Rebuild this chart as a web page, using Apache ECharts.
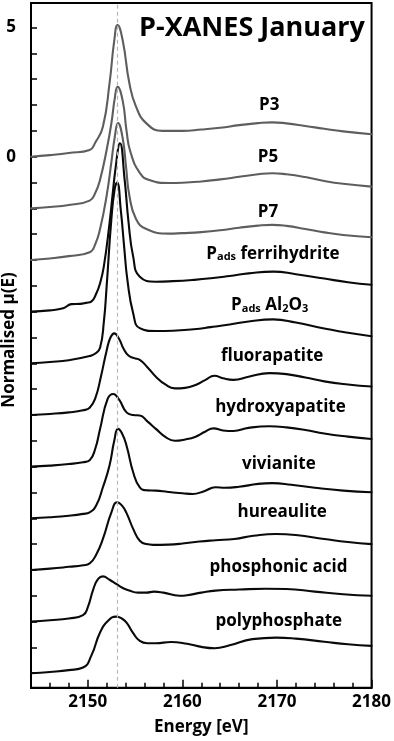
<!DOCTYPE html>
<html><head><meta charset="utf-8">
<script src="https://cdn.jsdelivr.net/npm/echarts@6/dist/echarts.min.js"></script>
<style>html,body{margin:0;padding:0;background:#fff}#c{width:394px;height:741px}</style>
</head><body><div id="c"></div>
<script>
// ---------------- DATA ----------------
const curveNames = ['P3','P5','P7','Pads ferrihydrite','Pads Al2O3','fluorapatite','hydroxyapatite','vivianite','hureaulite','phosphonic acid','polyphosphate'];
const curveOffsets = [0,-2,-4,-6,-8,-10,-12,-14,-16,-18,-20];

const P3 = [[2144,0.00],[2146,0.06],[2148,0.14],[2150.2,0.26],[2150.8,0.55],[2151.6,1.16],[2152.3,2.84],[2152.8,4.49],[2153.15,5.10],[2153.7,4.49],[2154.4,2.84],[2155.1,1.94],[2156.2,1.29],[2157.9,1.00],[2160,1.00],[2162,1.05],[2164,1.12],[2166,1.22],[2168,1.30],[2169.5,1.33],[2171,1.29],[2173,1.19],[2175,1.08],[2177,0.98],[2180,0.87]];
const P5 = [[2144,0.00],[2146,0.05],[2148,0.13],[2150.2,0.30],[2150.8,0.60],[2151.3,1.11],[2152.0,2.27],[2152.5,3.3],[2152.85,4.25],[2153.15,4.71],[2153.7,4.15],[2154.1,3.0],[2154.5,2.2],[2155.5,1.37],[2156.5,1.1],[2158.6,0.98],[2160,0.99],[2162,1.04],[2164,1.12],[2166,1.22],[2168,1.32],[2169.5,1.36],[2171,1.32],[2173,1.21],[2175,1.06],[2177,0.95],[2180,0.84]];
const P7 = [[2144,0.00],[2146,0.06],[2148,0.15],[2150.2,0.30],[2150.8,0.62],[2151.3,1.2],[2152.0,2.5],[2152.5,3.8],[2152.85,4.75],[2153.2,5.30],[2153.7,4.7],[2154.05,3.6],[2154.4,2.49],[2155.1,1.59],[2156.2,1.2],[2158.6,1.02],[2160,1.04],[2162,1.08],[2164,1.15],[2166,1.25],[2168,1.33],[2169.5,1.36],[2171,1.32],[2173,1.2],[2175,1.07],[2177,0.97],[2180,0.88]];
const ferrihydrite = [[2144,0.00],[2146,0.05],[2147.4,0.13],[2148.3,0.29],[2149.2,0.30],[2149.8,0.34],[2150.4,0.40],[2150.9,0.7],[2151.3,1.1],[2151.7,1.75],[2152.3,3.42],[2153.0,5.74],[2153.4,6.52],[2153.9,5.1],[2154.3,3.5],[2154.8,2.13],[2155.5,1.35],[2157.2,1.16],[2159,1.18],[2161.2,1.23],[2163,1.29],[2165,1.38],[2167,1.48],[2169.6,1.55],[2172,1.45],[2175,1.28],[2177.5,1.14],[2180,1.04]];
const al2o3 = [[2144,0.00],[2146,0.05],[2148,0.12],[2150.2,0.28],[2150.8,0.38],[2151.3,0.6],[2151.7,1.6],[2152.0,3.0],[2152.5,5.6],[2152.85,6.75],[2153.1,7.0],[2153.5,5.9],[2153.85,4.5],[2154.2,3.2],[2154.8,1.94],[2155.5,1.36],[2157.2,1.25],[2159,1.26],[2161.2,1.32],[2163,1.40],[2165,1.50],[2167,1.62],[2169.6,1.70],[2172,1.58],[2175,1.35],[2177.5,1.18],[2180,1.05]];
const fluorapatite = [[2144,0.00],[2146,0.04],[2148,0.10],[2149.5,0.18],[2150.2,0.28],[2150.8,0.65],[2151.4,1.5],[2152.0,2.5],[2152.4,3.0],[2152.8,3.16],[2153.3,2.95],[2153.8,2.55],[2154.3,2.3],[2154.9,2.2],[2155.5,2.13],[2156.3,1.85],[2157.2,1.48],[2158.2,1.18],[2159.2,1.03],[2160.3,1.05],[2161.4,1.16],[2162.4,1.35],[2163.4,1.52],[2164.3,1.42],[2165.4,1.36],[2167,1.48],[2169.2,1.62],[2171,1.58],[2173,1.45],[2175,1.3],[2177.5,1.18],[2180,1.1]];
const hydroxyapatite = [[2144,0.00],[2146,0.04],[2148,0.10],[2149.5,0.17],[2150.2,0.25],[2150.8,0.7],[2151.3,1.46],[2152.1,2.62],[2152.7,2.81],[2153.3,2.6],[2154.1,2.1],[2154.8,2.0],[2155.5,1.98],[2156.3,1.75],[2157.2,1.46],[2158.2,1.15],[2159.2,1.0],[2160.3,1.05],[2161.4,1.16],[2162.4,1.35],[2163.3,1.48],[2164.3,1.40],[2165.4,1.38],[2167,1.5],[2169.2,1.56],[2171,1.52],[2173,1.42],[2175,1.28],[2177.5,1.16],[2180,1.07]];
const vivianite = [[2144,0.00],[2146,0.04],[2148,0.10],[2149.5,0.17],[2150.2,0.23],[2150.9,0.5],[2151.6,1.2],[2152.3,2.04],[2152.8,3.0],[2153.2,3.46],[2153.6,3.3],[2154.1,2.81],[2154.8,1.78],[2155.5,1.2],[2156.3,1.08],[2157.2,1.07],[2158.5,1.02],[2160,0.97],[2161.1,0.94],[2162.3,1.05],[2163.5,1.2],[2164.5,1.18],[2166,1.22],[2168,1.33],[2169.5,1.36],[2171.5,1.3],[2174,1.18],[2177,1.07],[2180,1.01]];
const hureaulite = [[2144,0.00],[2146,0.05],[2148,0.12],[2149.5,0.18],[2150.2,0.25],[2150.9,0.6],[2151.6,1.2],[2152.5,2.23],[2153.1,2.62],[2153.6,2.5],[2154.1,2.2],[2154.8,1.59],[2155.5,1.13],[2156.2,1.0],[2156.9,0.97],[2158.5,0.98],[2160,1.02],[2161.8,1.1],[2163.5,1.15],[2165.5,1.2],[2167.5,1.32],[2169.9,1.39],[2172,1.35],[2175,1.2],[2177.5,1.08],[2180,1.0]];
const phosphonicAcid = [[2144,0.00],[2146,0.05],[2148,0.12],[2149.5,0.25],[2150.0,0.55],[2150.6,1.27],[2151.1,1.65],[2151.6,1.75],[2152.3,1.62],[2153.0,1.46],[2153.7,1.3],[2154.4,1.2],[2155.3,1.12],[2156.2,1.12],[2157,1.16],[2158,1.12],[2159.7,1.0],[2160.5,1.02],[2162,1.12],[2163.5,1.2],[2166,1.24],[2168.8,1.27],[2171,1.26],[2174,1.16],[2177,1.06],[2180,1.0]];
const polyphosphate = [[2144,0.00],[2146,0.05],[2148,0.12],[2149.5,0.22],[2150.4,0.7],[2151.3,1.58],[2152.2,2.05],[2153.0,2.19],[2153.6,2.12],[2154.1,1.96],[2154.8,1.55],[2155.5,1.25],[2156.3,1.16],[2157.2,1.16],[2158.8,1.21],[2160.5,1.14],[2162,1.02],[2163.4,0.97],[2165,1.08],[2167.4,1.32],[2169.9,1.38],[2172,1.34],[2175,1.22],[2177.5,1.12],[2180,1.06]];

const curveData = [P3,P5,P7,ferrihydrite,al2o3,fluorapatite,hydroxyapatite,vivianite,hureaulite,phosphonicAcid,polyphosphate];

const xTickLabels = [2150,2160,2170,2180];
const xMinorTicks = [2146,2148,2152,2154,2156,2158,2162,2164,2166,2168,2172,2174,2176,2178];
const yTickValues = [-20,-19,-18,-17,-16,-15,-14,-13,-12,-11,-10,-9,-8,-7,-6,-5,-4,-3,-2,-1,0,1,2,3,4,5];
const yTickLabels = [0,5];
const whiteLineEnergy = 2153.1;

const titleText = 'P-XANES January';
const xAxisName = 'Energy [eV]';
const yAxisName = 'Normalised \u03bc(E)';
const labelTexts = ['{m|P3}','{m|P5}','{m|P7}','{m|P}{s|ads}{m| ferrihydrite}','{m|P}{s|ads}{m| Al}{s|2}{m|O}{s|3}','{m|fluorapatite}','{m|hydroxyapatite}','{m|vivianite}','{m|hureaulite}','{m|phosphonic acid}','{m|polyphosphate}'];

// ---------------- LAYOUT ----------------
const labelAnchors = [[2169.19,2.09],[2169.05,0.09],[2169.05,-2.04],[2169.58,-3.66],[2169.23,-5.66],[2169.49,-7.62],[2170.37,-9.59],[2170.2,-11.8],[2170.55,-13.65],[2170.16,-15.8],[2170.19,-17.9]];
const FONT = '"Open Sans", "DejaVu Sans", sans-serif';
const grayIdx = 3;

const chart = echarts.init(document.getElementById('c'), null, {renderer:'canvas'});

const series = curveData.map((d, i) => ({
  type: 'line',
  name: curveNames[i],
  data: d.map(p => [p[0], p[1] + curveOffsets[i]]),
  showSymbol: false,
  smooth: 0.5,
  z: 3,
  silent: true,
  lineStyle: { color: i < grayIdx ? '#5e5e5e' : '#0a0a0a', width: 2.1, join: 'round', cap: 'round' }
}));
series.push({
  type: 'line', data: [], silent: true, z: 1,
  markLine: {
    silent: true, symbol: 'none', label: {show:false},
    lineStyle: { type: [4,3], color: '#b8b8b8', width: 1.2 },
    data: [{ xAxis: whiteLineEnergy }]
  }
});

const fmt = v => String(v);

chart.setOption({
  animation: false,
  backgroundColor: '#fff',
  grid: { left: 31, top: 3, width: 341, height: 684.7, show: true, borderColor: '#000', borderWidth: 2, containLabel: false },
  xAxis: [{
    type: 'value', min: 2144, max: 2180, position: 'bottom',
    axisLine: { show: true, onZero: false, lineStyle: { color: '#000', width: 2 } },
    axisTick: { show: true, inside: true, length: 8, customValues: xTickLabels, lineStyle: { color: '#000', width: 1.5 } },
    axisLabel: { show: true, customValues: xTickLabels, formatter: fmt, color: '#000', fontFamily: FONT, fontWeight: 'bold', fontSize: 17, margin: 6 },
    splitLine: { show: false },
    name: xAxisName, nameLocation: 'middle', nameGap: 31,
    nameTextStyle: { color: '#000', fontFamily: FONT, fontWeight: 'bold', fontSize: 17 }
  },{
    type: 'value', min: 2144, max: 2180, position: 'bottom',
    axisLine: { show: false, onZero: false },
    axisTick: { show: true, inside: true, length: 5, customValues: xMinorTicks, lineStyle: { color: '#000', width: 1.5 } },
    axisLabel: { show: false },
    splitLine: { show: false }
  }],
  yAxis: {
    type: 'value', min: -20.56, max: 5.95,
    axisLine: { show: true, onZero: false, lineStyle: { color: '#000', width: 2 } },
    axisTick: { show: true, inside: true, length: 6, customValues: yTickValues, lineStyle: { color: '#000', width: 1.5 } },
    axisLabel: { show: true, customValues: yTickLabels, formatter: fmt, color: '#000', fontFamily: FONT, fontWeight: 'bold', fontSize: 17, margin: 15 },
    splitLine: { show: false }
  },
  series: series
});

const gfx = [];
gfx.push({ type: 'text', x: 252, y: 28, z: 10, silent: true,
  style: { text: titleText, fill: '#000', font: 'bold 27px ' + FONT, textAlign: 'center', textVerticalAlign: 'middle' } });
gfx.push({ type: 'text', x: 9, y: 340, rotation: Math.PI/2, z: 10, silent: true,
  style: { text: yAxisName, fill: '#000', font: 'bold 17px ' + FONT, textAlign: 'center', textVerticalAlign: 'middle' } });
labelTexts.forEach((t, i) => {
  const p = chart.convertToPixel({ gridIndex: 0 }, labelAnchors[i]);
  gfx.push({ type: 'text', x: p[0], y: p[1], z: 10, silent: true,
    style: { text: t, textAlign: 'center', textVerticalAlign: 'middle',
      rich: {
        m: { fontFamily: FONT, fontWeight: 'bold', fontSize: 17, color: '#000', verticalAlign: 'bottom', lineHeight: 22 },
        s: { fontFamily: FONT, fontWeight: 'bold', fontSize: 11, color: '#000', verticalAlign: 'bottom', lineHeight: 22 }
      } } });
});
chart.setOption({ graphic: gfx });
</script></body></html>
